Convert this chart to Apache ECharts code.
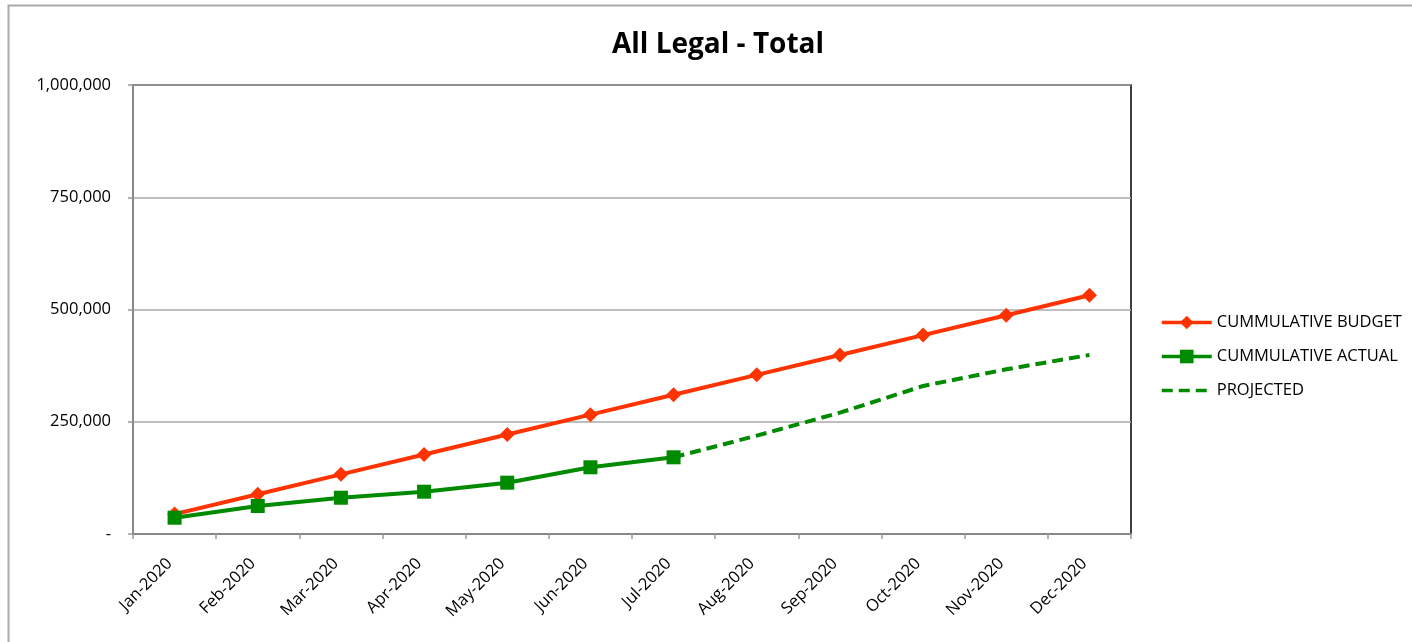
<!DOCTYPE html>
<html lang="en">
<head>
  <meta charset="UTF-8">
  <title>All Legal - Total</title>
  <script src="https://cdn.jsdelivr.net/npm/echarts@6/dist/echarts.min.js"></script>
  <style>
    html, body { margin: 0; padding: 0; background: #fff; }
    #chart { width: 1412px; height: 642px; }
  </style>
</head>
<body>
<div id="chart"></div>
<script>
  // values
  const months = ['Jan-2020', 'Feb-2020', 'Mar-2020', 'Apr-2020', 'May-2020', 'Jun-2020',
    'Jul-2020', 'Aug-2020', 'Sep-2020', 'Oct-2020', 'Nov-2020', 'Dec-2020'];
  const budget = [44300, 88600, 132900, 177200, 221500, 265800, 310100, 354400, 398700, 443000, 487300, 531600];
  const actual = [36300, 62400, 80800, 94200, 114300, 148600, 170800, null, null, null, null, null];
  const projected = [null, null, null, null, null, null, 170800, 219000, 270200, 329600, 366800, 398700];
  const yTicks = [0, 250000, 500000, 750000, 1000000];

  const fontFam = '"Open Sans", "Liberation Sans", sans-serif';
  const red = '#ff3300';
  const green = '#008a00';

  let chart = echarts.init(document.getElementById('chart'));
  let option = {
    animation: false,
    textStyle: { fontFamily: fontFam, color: '#000' },
    graphic: [{
      type: 'rect',
      shape: { x: 8.5, y: 5.5, width: 1430, height: 700 },
      style: { fill: 'none', stroke: '#aaa', lineWidth: 2 },
      silent: true
    }],
    title: {
      text: 'All Legal - Total',
      left: 607,
      top: 26,
      textStyle: { fontSize: 28, fontWeight: 'bold', fontFamily: fontFam, color: '#000' }
    },
    legend: {
      orient: 'vertical',
      left: 1155,
      top: 309,
      itemWidth: 50,
      itemHeight: 17,
      itemGap: 17,
      lineStyle: { width: 3.5 },
      textStyle: { fontSize: 16.5, fontFamily: fontFam, color: '#000' },
      data: [
        { name: 'CUMMULATIVE BUDGET' },
        { name: 'CUMMULATIVE ACTUAL' },
        { name: 'PROJECTED', itemStyle: { opacity: 0 } }
      ]
    },
    grid: {
      left: 133, top: 85, width: 998, height: 449,
      show: true, borderColor: '#000', borderWidth: 1.5, containLabel: false
    },
    xAxis: {
      type: 'category',
      data: months,
      boundaryGap: true,
      axisLine: { lineStyle: { color: '#888', width: 2 } },
      axisTick: { show: true, length: 5, lineStyle: { color: '#999', width: 1.5 } },
      axisLabel: { rotate: 45, fontSize: 16.5, color: '#000', margin: 22, padding: [0, 7, 0, 0], interval: 0 }
    },
    yAxis: {
      type: 'value',
      min: yTicks[0],
      max: yTicks[yTicks.length - 1],
      interval: 250000,
      axisLine: { show: true, lineStyle: { color: '#888', width: 2 } },
      axisTick: { show: true, length: 5, lineStyle: { color: '#999', width: 1.5 } },
      splitLine: { lineStyle: { color: '#aaa', width: 1.5 } },
      axisLabel: {
        fontSize: 16.5, color: '#000', margin: 22,
        formatter: function (v) { return v === 0 ? '-' : v.toLocaleString('en-US'); }
      }
    },
    series: [
      {
        name: 'PROJECTED',
        type: 'line',
        data: projected,
        symbol: 'none',
        lineStyle: { color: green, width: 4, type: [11, 6] },
        itemStyle: { color: green },
        z: 2
      },
      {
        name: 'CUMMULATIVE BUDGET',
        type: 'line',
        data: budget,
        symbol: 'diamond',
        symbolSize: 15,
        lineStyle: { color: red, width: 4 },
        itemStyle: { color: red },
        z: 3
      },
      {
        name: 'CUMMULATIVE ACTUAL',
        type: 'line',
        data: actual,
        symbol: 'rect',
        symbolSize: 14,
        lineStyle: { color: green, width: 4 },
        itemStyle: { color: green },
        z: 4
      }
    ]
  };
  chart.setOption(option);
</script>
</body>
</html>
